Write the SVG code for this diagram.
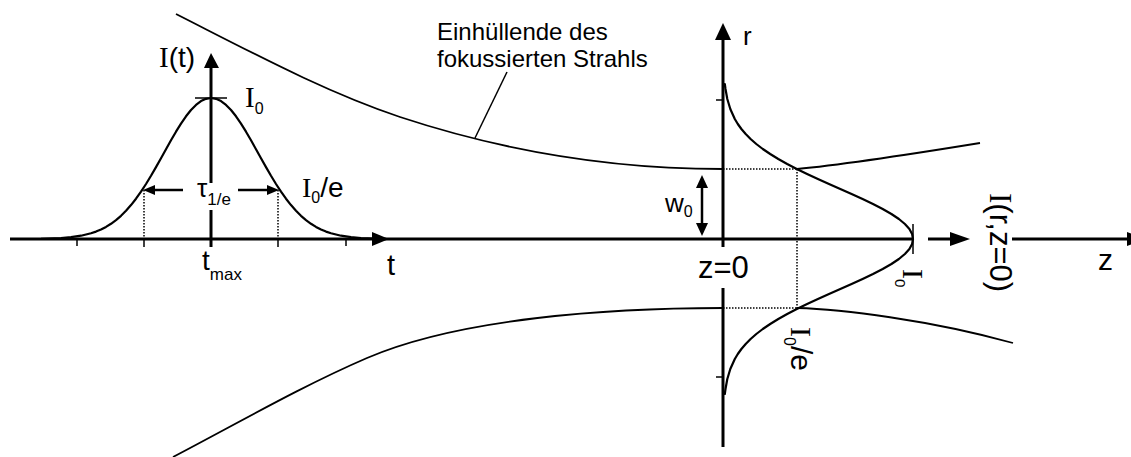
<svg xmlns="http://www.w3.org/2000/svg" width="1131" height="457" viewBox="0 0 1131 457">
<style>
  .axis{stroke:#000;stroke-width:3;fill:none}
  .curve{stroke:#000;stroke-width:2.2;fill:none;stroke-linejoin:round;stroke-linecap:round}
  .env{stroke:#000;stroke-width:1.8;fill:none}
  .thin{stroke:#000;stroke-width:1.5;fill:none}
  .dot{stroke:#000;stroke-width:1.5;fill:none;stroke-dasharray:1.5 1.5}
  .head{fill:#000;stroke:none}
  .dim{stroke:#000;stroke-width:2.5;fill:none}
  .sans{font-family:"Liberation Sans",Arial,sans-serif;fill:#000}
  .serif{font-family:"Liberation Serif","Times New Roman",serif}
</style>
<rect width="1131" height="457" fill="#fff"/>

<g id="envelope">
  <path class="env" d="M176,14 C251,52 325,92 400,117 C508,152.6 615,169 723,169"/>
  <path class="env" d="M797,169 C830,166 900,156 980,143"/>
  <path class="env" d="M173,457 C238,423 302,386 367,358 C460,318 610,308 723,308"/>
  <path class="env" d="M797,308 C840,309 930,320 1013,343"/>
  <line class="thin" x1="475" y1="138" x2="507" y2="72"/>
  <text class="sans" font-size="24" x="437" y="40">Einhüllende des</text>
  <text class="sans" font-size="24" x="437" y="67">fokussierten Strahls</text>
</g>

<g id="axes">
  <line class="axis" x1="10" y1="239" x2="913" y2="239"/>
  <line class="axis" x1="928" y1="239" x2="955" y2="239"/>
  <polygon class="head" points="372,232 389,239 372,246"/>
  <polygon class="head" points="950,232 970,239 950,246"/>
  <line class="axis" x1="1012" y1="239" x2="1130" y2="239"/>
  <polygon class="head" points="1127,232 1147,239 1127,246"/>
  <line class="axis" x1="211" y1="64" x2="211" y2="183"/>
  <line class="axis" x1="211" y1="210" x2="211" y2="247"/>
  <polygon class="head" points="204,68 211,53 219,68"/>
  <line class="axis" x1="723" y1="36" x2="723" y2="247"/>
  <line class="axis" x1="723" y1="288" x2="723" y2="447"/>
  <polygon class="head" points="715,40 723,23 731,40"/>
</g>

<g id="ticks">
  <line class="thin" x1="77" y1="239" x2="77" y2="246"/>
  <line class="thin" x1="144" y1="239" x2="144" y2="247"/>
  <line class="thin" x1="278" y1="239" x2="278" y2="247"/>
  <line class="thin" x1="346" y1="239" x2="346" y2="246"/>
  <line class="thin" x1="195" y1="98" x2="227" y2="98"/>
  <line class="thin" x1="913" y1="224" x2="913" y2="254"/>
  <line class="thin" x1="716" y1="100" x2="723" y2="100"/>
  <line class="thin" x1="716" y1="377" x2="723" y2="377"/>
</g>

<g id="pulse">
  <polyline class="curve" points="11,239 41,238.8 61,238.1 71,237.2 81,235.7 91,233.3 96,231.6 101,229.5 106,226.9 111,223.8 116,220.1 121,215.8 126,210.8 131,205.1 136,198.7 141,191.7 146,184 151,175.8 156,167.1 161,158.2 166,149.2 171,140.3 176,131.7 181,123.6 186,116.3 191,110 196,104.9 201,101.1 206,98.8 211,98 216,98.8 221,101.1 226,104.9 231,110 236,116.3 241,123.6 246,131.7 251,140.3 256,149.2 261,158.2 266,167.1 271,175.8 276,184 281,191.7 286,198.7 291,205.1 296,210.8 301,215.8 306,220.1 311,223.8 316,226.9 321,229.5 326,231.6 331,233.3 341,235.7 351,237.2 361,238.1 381,238.8"/>
  <line class="dot" x1="144" y1="190" x2="144" y2="239"/>
  <line class="dot" x1="278" y1="190" x2="278" y2="239"/>
  <line class="dim" x1="152" y1="190" x2="183" y2="190"/>
  <polygon class="head" points="155,185 143,190 155,195"/>
  <line class="dim" x1="238" y1="190" x2="270" y2="190"/>
  <polygon class="head" points="267,185 279,190 267,195"/>
  <text class="sans" font-size="28" x="159" y="67"><tspan class="serif" font-size="29">I</tspan>(t)</text>
  <text class="sans" font-size="29" x="245" y="107"><tspan class="serif">I</tspan><tspan font-size="16" dy="7">0</tspan></text>
  <text class="sans" font-size="28" x="302" y="197"><tspan class="serif">I</tspan><tspan font-size="16" dy="6">0</tspan><tspan dy="-6">/e</tspan></text>
  <text class="sans" font-size="26" x="197" y="197">τ<tspan font-size="17" dy="8">1/e</tspan></text>
  <text class="sans" font-size="28" x="202" y="270">t<tspan font-size="17" dy="10">max</tspan></text>
  <text class="sans" font-size="29" x="387" y="275">t</text>
</g>

<g id="beam-profile">
  <polyline class="curve" points="724.8,84 725.5,89 727.3,99 730.3,109 734.8,119 737.8,124 741.4,129 745.7,134 750.6,139 756.3,144 762.8,149 770.2,154 778.3,159 787.2,164 796.8,169 807.1,174 817.9,179 829,184 840.3,189 851.6,194 862.6,199 873,204 882.7,209 891.4,214 898.9,219 904.9,224 909.4,229 912.1,234 913,239 912.1,244 909.4,249 904.9,254 898.9,259 891.4,264 882.7,269 873,274 862.6,279 851.6,284 840.3,289 829,294 817.9,299 807.1,304 796.8,309 787.2,314 778.3,319 770.2,324 762.8,329 756.3,334 750.6,339 745.7,344 741.4,349 737.8,354 734.8,359 730.3,369 727.3,379 725.5,389 724.8,394"/>
  <line class="dot" x1="723" y1="169" x2="797" y2="169"/>
  <line class="dot" x1="723" y1="308" x2="797" y2="308"/>
  <line class="dot" x1="797" y1="169" x2="797" y2="308"/>
  <line class="dim" x1="702" y1="185" x2="702" y2="226"/>
  <polygon class="head" points="696,188 702,175 708,188"/>
  <polygon class="head" points="696,223 702,236 708,223"/>
  <text class="sans" font-size="26" x="665" y="212">w<tspan font-size="16" dy="5">0</tspan></text>
  <text class="sans" font-size="31" x="698" y="278">z=0</text>
  <text class="sans" font-size="26" x="743" y="45">r</text>
  <text class="sans" font-size="30" x="1098" y="270">z</text>
  <text class="sans" font-size="30" transform="translate(903,269) rotate(90)"><tspan class="serif">I</tspan><tspan font-size="15" dy="8">0</tspan></text>
  <text class="sans" font-size="30" transform="translate(791,327) rotate(90)"><tspan class="serif">I</tspan><tspan font-size="16" dy="7">0</tspan><tspan dy="-7">/e</tspan></text>
  <text class="sans" font-size="31" transform="translate(990,193) rotate(90)"><tspan class="serif">I</tspan>(r,z=0)</text>
</g>
</svg>
